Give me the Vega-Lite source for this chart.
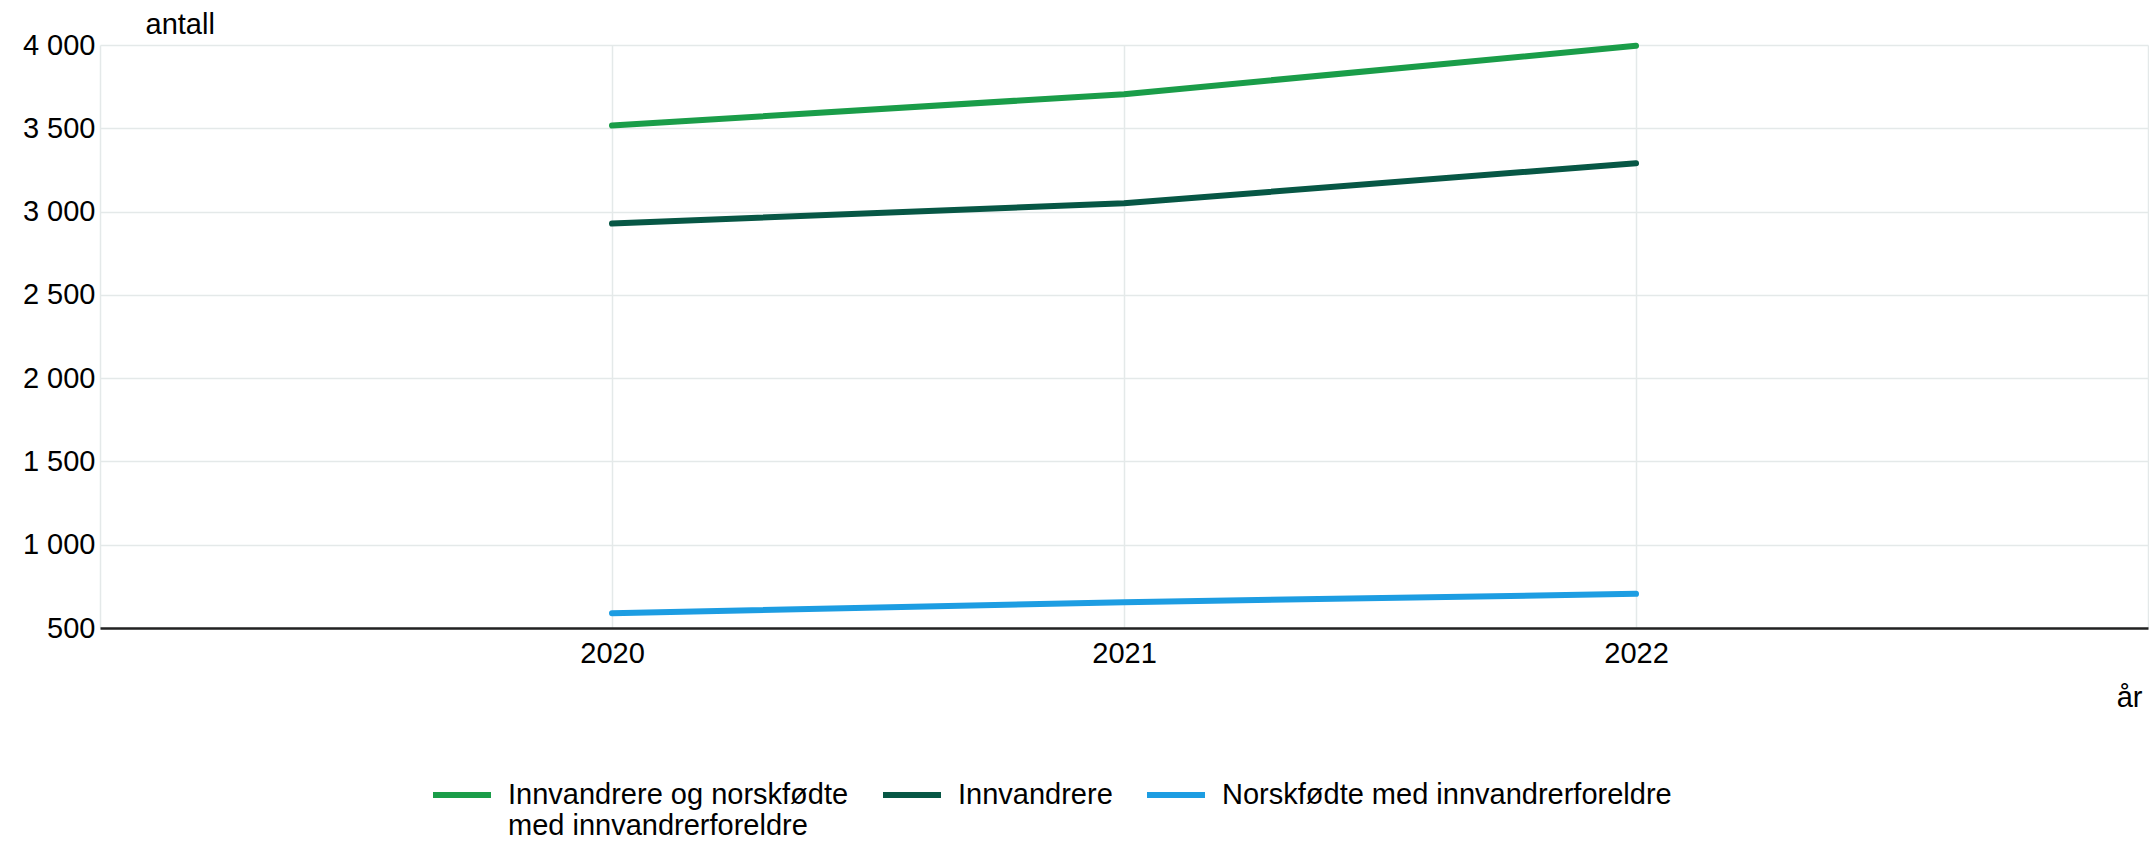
{
  "$schema": "https://vega.github.io/schema/vega-lite/v6.json",
  "width": 2048,
  "height": 583,
  "autosize": {"type": "none"},
  "padding": {"left": 100, "top": 45, "right": 1, "bottom": 214},
  "background": "white",
  "config": {
    "view": {"stroke": null},
    "font": "Liberation Sans",
    "axis": {"labelFont": "Liberation Sans", "titleFont": "Liberation Sans", "labelColor": "#000", "titleColor": "#000", "titleFontWeight": "normal"},
    "legend": {"labelFont": "Liberation Sans", "labelColor": "#000"}
  },
  "data": {
    "values": [
      {"year": 2020, "group": "Innvandrere og norskfødte med innvandrerforeldre", "value": 3517},
      {"year": 2021, "group": "Innvandrere og norskfødte med innvandrerforeldre", "value": 3705},
      {"year": 2022, "group": "Innvandrere og norskfødte med innvandrerforeldre", "value": 3995},
      {"year": 2020, "group": "Innvandrere", "value": 2928},
      {"year": 2021, "group": "Innvandrere", "value": 3050},
      {"year": 2022, "group": "Innvandrere", "value": 3290},
      {"year": 2020, "group": "Norskfødte med innvandrerforeldre", "value": 589},
      {"year": 2021, "group": "Norskfødte med innvandrerforeldre", "value": 655},
      {"year": 2022, "group": "Norskfødte med innvandrerforeldre", "value": 705}
    ]
  },
  "mark": {"type": "line", "strokeWidth": 6, "strokeCap": "round", "strokeJoin": "round"},
  "encoding": {
    "x": {
      "field": "year",
      "type": "quantitative",
      "scale": {"domain": [2019, 2023], "nice": false, "zero": false},
      "axis": {
        "values": [2019, 2020, 2021, 2022, 2023],
        "format": "d",
        "labelExpr": "datum.value == 2019 || datum.value == 2023 ? '' : datum.label",
        "labelFontSize": 29,
        "labelPadding": 11,
        "ticks": false,
        "domainColor": "#222222",
        "domainWidth": 2.5,
        "grid": true,
        "gridColor": "#e4e9e9",
        "gridWidth": 1.5,
        "title": "år",
        "titleFontSize": 29,
        "titleAnchor": "end",
        "titleAlign": "right",
        "titleBaseline": "middle",
        "titleX": 2042,
        "titleY": 69
      }
    },
    "y": {
      "field": "value",
      "type": "quantitative",
      "scale": {"domain": [500, 4000], "nice": false, "zero": false},
      "axis": {
        "values": [500, 1000, 1500, 2000, 2500, 3000, 3500, 4000],
        "labelExpr": "replace(format(datum.value, ','), ',', ' ')",
        "labelFontSize": 29,
        "labelPadding": 5,
        "ticks": false,
        "domain": false,
        "grid": true,
        "gridColor": "#e4e9e9",
        "gridWidth": 1.5,
        "title": "antall",
        "titleFontSize": 29,
        "titleAngle": 0,
        "titleAlign": "left",
        "titleBaseline": "alphabetic",
        "titleX": 45,
        "titleY": -12
      }
    },
    "color": {
      "field": "group",
      "type": "nominal",
      "scale": {
        "domain": ["Innvandrere og norskfødte med innvandrerforeldre", "Innvandrere", "Norskfødte med innvandrerforeldre"],
        "range": ["#1a9d49", "#075745", "#1d9de2"]
      },
      "legend": {
        "title": null,
        "orient": "none",
        "direction": "horizontal",
        "gridAlign": "none",
        "legendX": 330,
        "legendY": 718,
        "padding": 0,
        "symbolType": "stroke",
        "symbolSize": 3364,
        "symbolStrokeWidth": 6,
        "labelFontSize": 29,
        "labelLineHeight": 28,
        "labelOffset": 14,
        "labelLimit": 600,
        "columnPadding": 22,
        "labelExpr": "datum.label == 'Innvandrere og norskfødte med innvandrerforeldre' ? ['Innvandrere og norskfødte', 'med innvandrerforeldre'] : datum.label"
      }
    }
  }
}
